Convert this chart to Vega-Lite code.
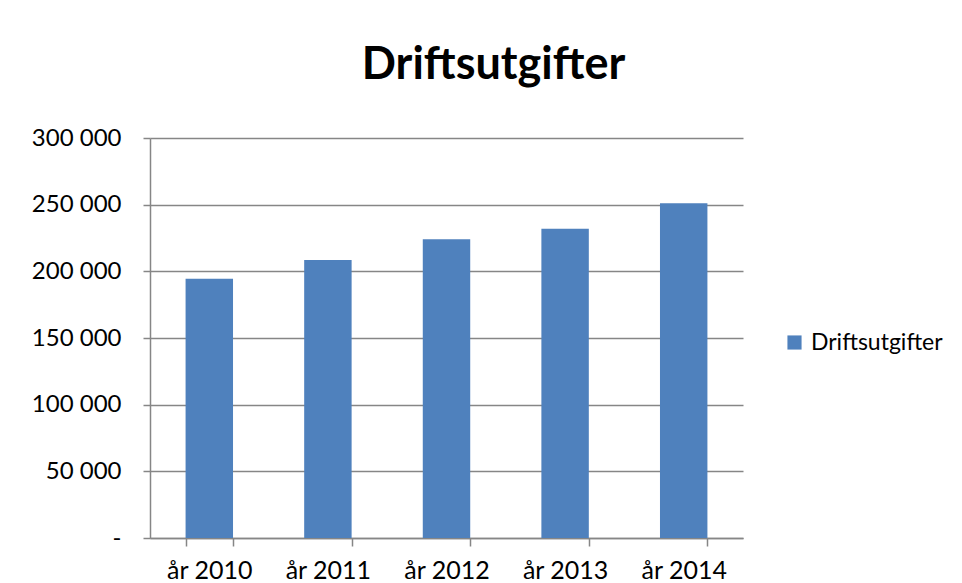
{
  "$schema": "https://vega.github.io/schema/vega-lite/v6.json",
  "autosize": {"type": "none"},
  "width": 593,
  "height": 400,
  "padding": {"left": 150, "top": 138, "right": 219, "bottom": 45},
  "background": "white",
  "title": {
    "text": "Driftsutgifter",
    "fontSize": 45,
    "fontWeight": "bold",
    "font": "Lato",
    "color": "black",
    "anchor": "middle",
    "dx": 47,
    "offset": 38
  },
  "data": {
    "values": [
      {"year": "år 2010", "value": 194500, "series": "Driftsutgifter"},
      {"year": "år 2011", "value": 208500, "series": "Driftsutgifter"},
      {"year": "år 2012", "value": 224000, "series": "Driftsutgifter"},
      {"year": "år 2013", "value": 232000, "series": "Driftsutgifter"},
      {"year": "år 2014", "value": 251000, "series": "Driftsutgifter"}
    ]
  },
  "mark": {"type": "bar"},
  "encoding": {
    "x": {
      "field": "year",
      "type": "nominal",
      "title": null,
      "scale": {"paddingInner": 0.6, "paddingOuter": 0.3},
      "axis": {
        "labelAngle": 0,
        "labelFont": "Lato",
        "labelFontSize": 25,
        "labelColor": "black",
        "labelPadding": 12,
        "domainColor": "#868686",
        "domainWidth": 1.5,
        "tickColor": "#868686",
        "tickWidth": 1.5,
        "tickSize": 8,
        "tickBand": "extent"
      }
    },
    "y": {
      "field": "value",
      "type": "quantitative",
      "title": null,
      "scale": {"domain": [0, 300000]},
      "axis": {
        "values": [0, 50000, 100000, 150000, 200000, 250000, 300000],
        "labelExpr": "datum.value == 0 ? '-' : replace(format(datum.value, ','), ',', ' ')",
        "labelFont": "Lato",
        "labelFontSize": 24,
        "labelColor": "black",
        "labelPadding": 22,
        "grid": true,
        "gridColor": "#868686",
        "gridWidth": 1.5,
        "domainColor": "#868686",
        "domainWidth": 1.5,
        "tickColor": "#868686",
        "tickWidth": 1.5,
        "tickSize": 7
      }
    },
    "color": {
      "field": "series",
      "type": "nominal",
      "scale": {"range": ["#4F81BD"]},
      "legend": {
        "title": null,
        "orient": "none",
        "legendX": 633,
        "legendY": 193,
        "symbolType": "square",
        "symbolSize": 200,
        "labelFont": "Lato",
        "labelFontSize": 23,
        "labelColor": "black",
        "labelOffset": 5
      }
    }
  },
  "config": {
    "view": {"stroke": null}
  }
}
